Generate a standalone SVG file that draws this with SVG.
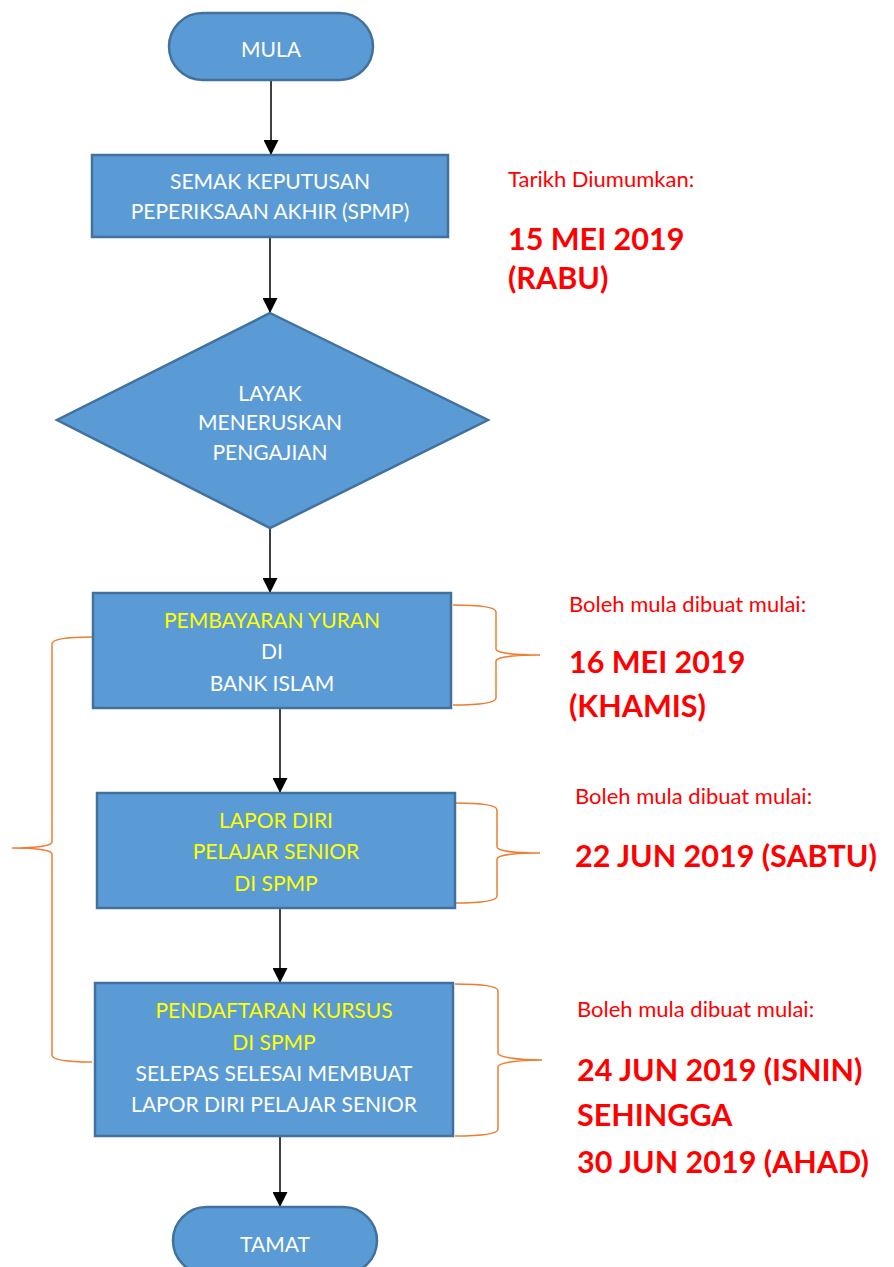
<svg xmlns="http://www.w3.org/2000/svg" width="894" height="1267" viewBox="0 0 894 1267">
<defs>
<style>
.shape{fill:#5B9BD5;stroke:#41719C;stroke-width:2.5}
.t{font-family:Lato,"Liberation Sans",sans-serif;font-size:21px;text-anchor:middle;fill:#FFFFFF}
.y{fill:#FFFF00}
.r{font-family:Lato,"Liberation Sans",sans-serif;font-size:22px;fill:#FF0000}
.rb{font-family:Lato,"Liberation Sans",sans-serif;font-size:30.5px;font-weight:bold;fill:#FF0000}
.conn{stroke:#000;stroke-width:1.5;fill:none;marker-end:url(#ah)}
.brace{stroke:#ED7D31;stroke-width:1.5;fill:none}
</style>
<marker id="ah" markerUnits="userSpaceOnUse" markerWidth="15" markerHeight="15" refX="15" refY="7.5" orient="auto">
<path d="M0,0 L15,7.5 L0,15 z" fill="#000"/>
</marker>
</defs>
<rect width="894" height="1267" fill="#FFFFFF"/>

<g id="connectors">
<line class="conn" x1="271" y1="80" x2="271" y2="155"/>
<line class="conn" x1="270" y1="237" x2="270" y2="313"/>
<line class="conn" x1="270" y1="528" x2="270" y2="593"/>
<line class="conn" x1="280" y1="708" x2="280" y2="793"/>
<line class="conn" x1="280" y1="908" x2="280" y2="983"/>
<line class="conn" x1="280" y1="1136" x2="280" y2="1207"/>
</g>

<g id="braces">
<path class="brace" d="M453,605 C480,605 496,607 496,612 L496,649 C496,653 515,655 540,655 C515,655 496,657 496,661 L496,698 C496,703 480,705 453,705"/>
<path class="brace" d="M455,803 C482,803 497,805 497,810 L497,847 C497,851 516,853 540,853 C516,853 497,855 497,859 L497,896 C497,901 482,903 455,903"/>
<path class="brace" d="M455,984 C483,984 498,986 498,991 L498,1053 C498,1057 517,1060 542,1060 C517,1060 498,1063 498,1067 L498,1129 C498,1134 483,1136 455,1136"/>
<path class="brace" d="M92,637 C66,637 52,639 52,644 L52,842 C52,846 35,848 12,848 C35,848 52,850 52,854 L52,1055 C52,1060 66,1062 92,1062"/>
</g>

<g id="mula">
<rect class="shape" x="169" y="13" width="204" height="67" rx="33.5"/>
<text class="t" x="271" y="57">MULA</text>
</g>

<g id="semak">
<rect class="shape" x="92" y="155" width="356" height="82"/>
<text class="t" x="270" y="189">SEMAK KEPUTUSAN</text>
<text class="t" x="270" y="219">PEPERIKSAAN AKHIR (SPMP)</text>
</g>

<g id="layak">
<polygon class="shape" points="270,313 488,420 270,528 57,420"/>
<text class="t" x="270" y="401">LAYAK</text>
<text class="t" x="270" y="430">MENERUSKAN</text>
<text class="t" x="270" y="460">PENGAJIAN</text>
</g>

<g id="pembayaran">
<rect class="shape" x="93" y="593" width="358" height="115"/>
<text class="t y" x="272" y="628">PEMBAYARAN YURAN</text>
<text class="t" x="272" y="659">DI</text>
<text class="t" x="272" y="691">BANK ISLAM</text>
</g>

<g id="lapor">
<rect class="shape" x="97" y="793" width="358" height="115"/>
<text class="t y" x="276" y="828">LAPOR DIRI</text>
<text class="t y" x="276" y="859">PELAJAR SENIOR</text>
<text class="t y" x="276" y="891">DI SPMP</text>
</g>

<g id="pendaftaran">
<rect class="shape" x="95" y="983" width="358" height="153"/>
<text class="t y" x="274" y="1018">PENDAFTARAN KURSUS</text>
<text class="t y" x="274" y="1050">DI SPMP</text>
<text class="t" x="274" y="1081">SELEPAS SELESAI MEMBUAT</text>
<text class="t" x="274" y="1112">LAPOR DIRI PELAJAR SENIOR</text>
</g>

<g id="tamat">
<rect class="shape" x="173" y="1207" width="204" height="67" rx="33.5"/>
<text class="t" x="275" y="1252">TAMAT</text>
</g>

<g id="notes">
<text class="r" x="508" y="187">Tarikh Diumumkan:</text>
<text class="rb" x="508" y="250">15 MEI 2019</text>
<text class="rb" x="508" y="289">(RABU)</text>
<text class="r" x="569" y="612">Boleh mula dibuat mulai:</text>
<text class="rb" x="569" y="673">16 MEI 2019</text>
<text class="rb" x="569" y="717">(KHAMIS)</text>
<text class="r" x="575" y="804">Boleh mula dibuat mulai:</text>
<text class="rb" x="575" y="867">22 JUN 2019 (SABTU)</text>
<text class="r" x="577" y="1017">Boleh mula dibuat mulai:</text>
<text class="rb" x="577" y="1081">24 JUN 2019 (ISNIN)</text>
<text class="rb" x="577" y="1126">SEHINGGA</text>
<text class="rb" x="577" y="1173">30 JUN 2019 (AHAD)</text>
</g>
</svg>
